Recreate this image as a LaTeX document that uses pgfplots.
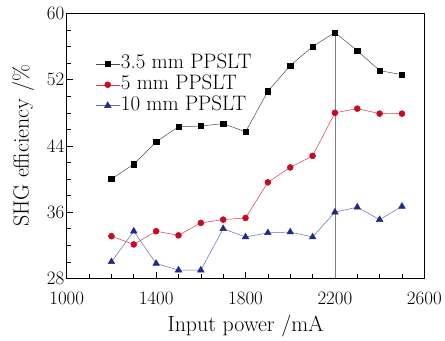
\documentclass[border=0pt]{standalone}
\usepackage{fontspec}
\usepackage{pgfplots}
\pgfplotsset{compat=1.18}
\definecolor{myred}{RGB}{200,10,30}
\definecolor{myblue}{RGB}{35,40,140}
\begin{document}
\begin{tikzpicture}
\begin{axis}[
  scale only axis,
  width=359pt, height=266pt,
  xmin=1000, xmax=2600, ymin=28, ymax=60,
  xtick={1000,1400,1800,2200,2600},
  ytick={28,36,44,52,60},
  minor x tick num=3, minor y tick num=3,
  tick align=inside,
  xtick pos=bottom, ytick pos=left,
  major tick length=6pt, minor tick length=4pt,
  axis line style={line width=0.8pt},
  every tick/.style={line width=0.6pt,black},
  /pgf/number format/assume math mode=true,
  ticklabel style={font=\fontsize{19}{19}\selectfont},
  xticklabel style={/pgf/number format/1000 sep={}, inner ysep=0pt, yshift=-13pt},
  yticklabel style={xshift=1pt, inner ysep=0pt},
  label style={font=\fontsize{22}{22}\selectfont},
  xlabel={Input power /mA},
  ylabel={SHG efficiency /\%},
  xlabel style={yshift=-7pt},
  ylabel style={yshift=6pt},
  legend style={draw=none, fill=none, at={(axis description cs:0.08,0.85)}, anchor=north west,
    font=\fontsize{21}{21}\selectfont, row sep=0pt, inner sep=0pt,
    nodes={inner sep=1pt, text height=14.5pt, text depth=4.5pt}},
  legend cell align=left,
  legend image code/.code={\draw[mark repeat=2,mark phase=2] plot coordinates {(0pt,0pt)(12pt,0pt)(24pt,0pt)};},
]
\draw[gray, line width=0.8pt] (axis cs:2200,28) -- (axis cs:2200,57.7);
\addplot[gray!60!black, line width=0.5pt, mark=square*, mark size=2.7pt, mark options={black, solid}] coordinates {
(1200,40.0)(1300,41.8)(1400,44.5)(1500,46.3)(1600,46.4)(1700,46.7)(1800,45.7)
(1900,50.6)(2000,53.7)(2100,56.0)(2200,57.7)(2300,55.5)(2400,53.1)(2500,52.6)};
\addlegendentry{3.5 mm PPSLT}
\addplot[myred!80, line width=0.5pt, mark=*, mark size=3pt, mark options={myred, solid}] coordinates {
(1200,33.1)(1300,32.1)(1400,33.7)(1500,33.2)(1600,34.7)(1700,35.1)(1800,35.3)
(1900,39.6)(2000,41.4)(2100,42.8)(2200,48.0)(2300,48.5)(2400,47.9)(2500,47.9)};
\addlegendentry{5 mm PPSLT}
\addplot[myblue!70, line width=0.5pt, mark=triangle*, mark size=3.8pt, mark options={myblue, solid}] coordinates {
(1200,30.0)(1300,33.7)(1400,29.8)(1500,29.0)(1600,29.0)(1700,34.0)(1800,33.0)
(1900,33.5)(2000,33.6)(2100,33.0)(2200,36.0)(2300,36.6)(2400,35.1)(2500,36.7)};
\addlegendentry{10 mm PPSLT}
\end{axis}
\path (current axis.south west) ++(-67pt,-61.5pt) rectangle ++(445pt,341pt);
\end{tikzpicture}
\end{document}
